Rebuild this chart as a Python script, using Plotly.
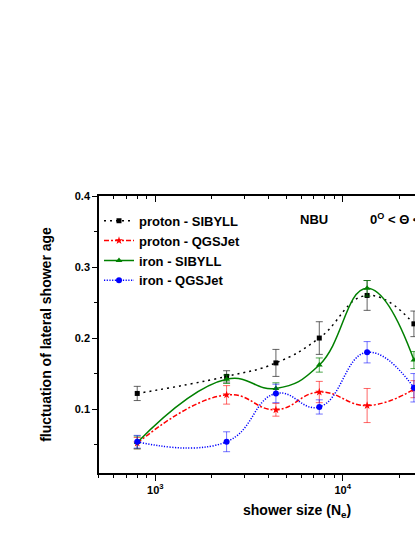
import plotly.graph_objects as go

# shower size bins (N_e) and fluctuation of lateral shower age
shower_size = [800, 2400, 4400, 7500, 13500, 24000]

proton_sibyll = [0.122, 0.146, 0.165, 0.200, 0.260, 0.220]
proton_sibyll_err = [0.010, 0.008, 0.019, 0.023, 0.021, 0.018]

proton_qgsjet = [0.052, 0.120, 0.099, 0.124, 0.105, 0.128]
proton_qgsjet_err = [0.008, 0.013, 0.009, 0.015, 0.024, 0.012]

iron_sibyll = [0.053, 0.142, 0.129, 0.162, 0.270, 0.169]
iron_sibyll_err = [0.009, 0.006, 0.008, 0.010, 0.011, 0.012]

iron_qgsjet = [0.054, 0.054, 0.122, 0.103, 0.180, 0.130]
iron_qgsjet_err = [0.009, 0.014, 0.013, 0.010, 0.015, 0.020]

x_major = [1000, 10000]
x_major_text = ["10<sup>3</sup>", "10<sup>4</sup>"]
x_minor = [500, 600, 700, 800, 900, 2000, 3000, 4000, 5000, 6000, 7000, 8000, 9000, 20000, 30000]
y_ticks = [0.1, 0.2, 0.3, 0.4]

FONT = "Liberation Sans, Arial, sans-serif"
X_RANGE = [2.699, 4.386]

series = [
    ("proton - SIBYLL", proton_sibyll, proton_sibyll_err, "#000000", "2px,4px", "square", 5, "rgba(60,60,60,0.8)"),
    ("proton - QGSJet", proton_qgsjet, proton_qgsjet_err, "#ff0000", "5px,2px,2px,2px", "star", 6, "rgba(255,0,0,0.6)"),
    ("iron - SIBYLL", iron_sibyll, iron_sibyll_err, "#008000", "solid", "triangle-up", 6, "rgba(0,128,0,0.7)"),
    ("iron - QGSJet", iron_qgsjet, iron_qgsjet_err, "#0000ff", "1.2px,1.5px", "circle", 6, "rgba(0,0,255,0.55)"),
]

fig = go.Figure()
for name, vals, errs, col, dash, sym, size, ecol in series:
    fig.add_trace(go.Scatter(
        x=shower_size, y=vals, name=name, mode="lines+markers", cliponaxis=False,
        line=dict(color=col, dash=dash, width=1.5, shape="spline", smoothing=1.3),
        marker=dict(symbol=sym, size=size, color=col),
        error_y=dict(type="data", array=errs, color=ecol, thickness=1, width=3.5),
    ))

# dummy trace so the top axis is drawn
fig.add_trace(go.Scatter(x=[1000], y=[0.5], xaxis="x2", mode="markers",
                         marker=dict(opacity=0), showlegend=False, hoverinfo="skip"))

fig.update_layout(
    width=415, height=537,
    margin=dict(l=99, r=0, t=196, b=64),
    plot_bgcolor="white", paper_bgcolor="white",
    font=dict(family=FONT, size=12, color="black", weight="bold"),
    showlegend=True,
    legend=dict(
        x=0.0, y=0.965, xanchor="left", yanchor="top",
        bgcolor="rgba(0,0,0,0)", tracegroupgap=0, itemwidth=30,
        font=dict(family=FONT, size=13, weight="bold"),
    ),
    xaxis=dict(
        type="log", range=X_RANGE,
        tickvals=x_major, ticktext=x_major_text,
        showgrid=False, zeroline=False,
        showline=True, linecolor="black", linewidth=1.5,
        ticks="outside", ticklen=6, tickwidth=1, tickcolor="black",
        minor=dict(tickvals=x_minor, ticks="outside", ticklen=3, tickcolor="black"),
        tickfont=dict(size=11, weight="bold"),
    ),
    xaxis2=dict(
        type="log", range=X_RANGE, overlaying="x", side="top", anchor="y",
        tickvals=x_major, showticklabels=False, showgrid=False, zeroline=False,
        showline=True, linecolor="black", linewidth=1.5,
        ticks="inside", ticklen=6, tickcolor="black",
        minor=dict(tickvals=x_minor, ticks="inside", ticklen=3, tickcolor="black"),
    ),
    yaxis=dict(
        range=[0.01, 0.4], tickvals=y_ticks, tickformat=".1f",
        showgrid=False, zeroline=False,
        showline=True, linecolor="black", linewidth=1.5,
        ticks="outside", ticklen=5, tickwidth=1, tickcolor="black",
        minor=dict(dtick=0.05, tick0=0.0, ticks="outside", ticklen=3, tickcolor="black"),
        tickfont=dict(size=11, weight="bold"),
        title=dict(text="fluctuation of lateral shower age", font=dict(size=14, weight="bold"), standoff=20),
    ),
)

fig.add_annotation(text="shower size (N<sub>e</sub>)", xref="paper", yref="paper",
                   x=(297 - 99) / 316, y=-(511 - 473) / 277, xanchor="center", yanchor="middle",
                   showarrow=False, font=dict(size=14, weight="bold"))
fig.add_annotation(text="NBU", xref="paper", yref="paper",
                   x=(298 - 99) / 316, y=(473 - 219) / 277, xanchor="left", yanchor="middle",
                   showarrow=False, font=dict(size=13, weight="bold"))
fig.add_annotation(text="0<sup>O</sup> < Θ < 40<sup>O</sup>", xref="paper", yref="paper",
                   x=(368 - 99) / 316, y=(473 - 219) / 277, xanchor="left", yanchor="middle",
                   showarrow=False, font=dict(size=13, weight="bold"))

# drop the default page margin so the figure sits at the window's top-left corner
fig.write_html("out.html", config={"displayModeBar": False},
               post_script="document.body.style.margin='0';document.body.style.overflow='hidden';")
